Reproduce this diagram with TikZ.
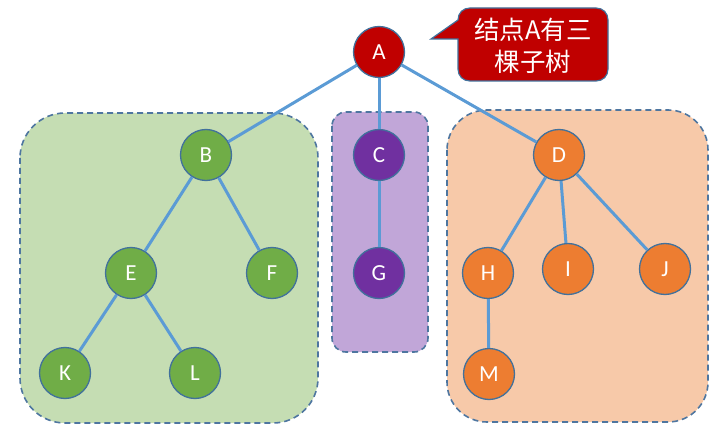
\documentclass[tikz,border=0pt]{standalone}
\usepackage{fontspec}
\setmainfont{Carlito}
\newfontfamily\cjk{Noto Sans CJK SC}
\definecolor{edgeblue}{HTML}{5B9BD5}
\definecolor{outl}{HTML}{41719C}
\definecolor{regdash}{HTML}{4E76A0}
\definecolor{nodered}{HTML}{C00000}
\definecolor{nodegreen}{HTML}{70AD47}
\definecolor{nodepurple}{HTML}{7030A0}
\definecolor{nodeorange}{HTML}{ED7D31}
\definecolor{reggreen}{HTML}{C5DDB3}
\definecolor{regpurple}{HTML}{C1A6D8}
\definecolor{regorange}{HTML}{F7C9A9}
\begin{document}
\begin{tikzpicture}[x=1pt,y=-1pt,
  treenode/.style={circle,draw=outl,line width=1.3pt,minimum size=51pt,inner sep=0pt,text=white,font=\fontsize{23}{25}\selectfont},
  rednode/.style={treenode,fill=nodered},
  greennode/.style={treenode,fill=nodegreen},
  purplenode/.style={treenode,fill=nodepurple},
  orangenode/.style={treenode,fill=nodeorange},
  link/.style={draw=edgeblue,line width=3pt},
  region/.style={draw=regdash,line width=1.6pt,dash pattern=on 6pt off 4pt}]
\useasboundingbox (0,0) rectangle (718,433);
\fill[white] (0,0) rectangle (718,433);
\path[region,fill=reggreen,rounded corners=45pt] (20,113) rectangle (318,423);
\path[region,fill=regpurple,rounded corners=14pt] (332,112) rectangle (428,352);
\path[region,fill=regorange,rounded corners=40pt] (447,110) rectangle (708,422);
\node[rednode] (A) at (379,52) {A};
\node[greennode] (B) at (206,155) {B};
\node[purplenode] (C) at (379,155) {C};
\node[orangenode] (D) at (559,155) {D};
\node[greennode] (E) at (131,273) {E};
\node[greennode] (F) at (272,273) {F};
\node[purplenode] (G) at (379,273) {G};
\node[orangenode] (H) at (488,273) {H};
\node[orangenode] (I) at (568,269) {I};
\node[orangenode] (J) at (665,269) {J};
\node[greennode] (K) at (65,373) {K};
\node[greennode] (L) at (195,373) {L};
\node[orangenode] (M) at (489,374) {M};
\foreach \p/\c in {A/B,A/C,A/D,B/E,B/F,C/G,D/H,D/I,D/J,E/K,E/L,H/M}
  \draw[link] (\p) -- (\c);
\path[draw=outl,line width=1.2pt,fill=nodered]
  (431,39) -- (458,39) -- (458,69)
  .. controls (458,76) and (463,81) .. (470,81) -- (596,81)
  .. controls (603,81) and (608,76) .. (608,69) -- (608,20)
  .. controls (608,13) and (603,8) .. (596,8) -- (470,8)
  .. controls (463,8) and (458,13) .. (458,20) -- cycle;
\node[text=white,align=center,font=\cjk\fontsize{25.5}{32}\selectfont,inner sep=0pt] (callout) at (533,46) {结点A有三\\棵子树};
\end{tikzpicture}
\end{document}
